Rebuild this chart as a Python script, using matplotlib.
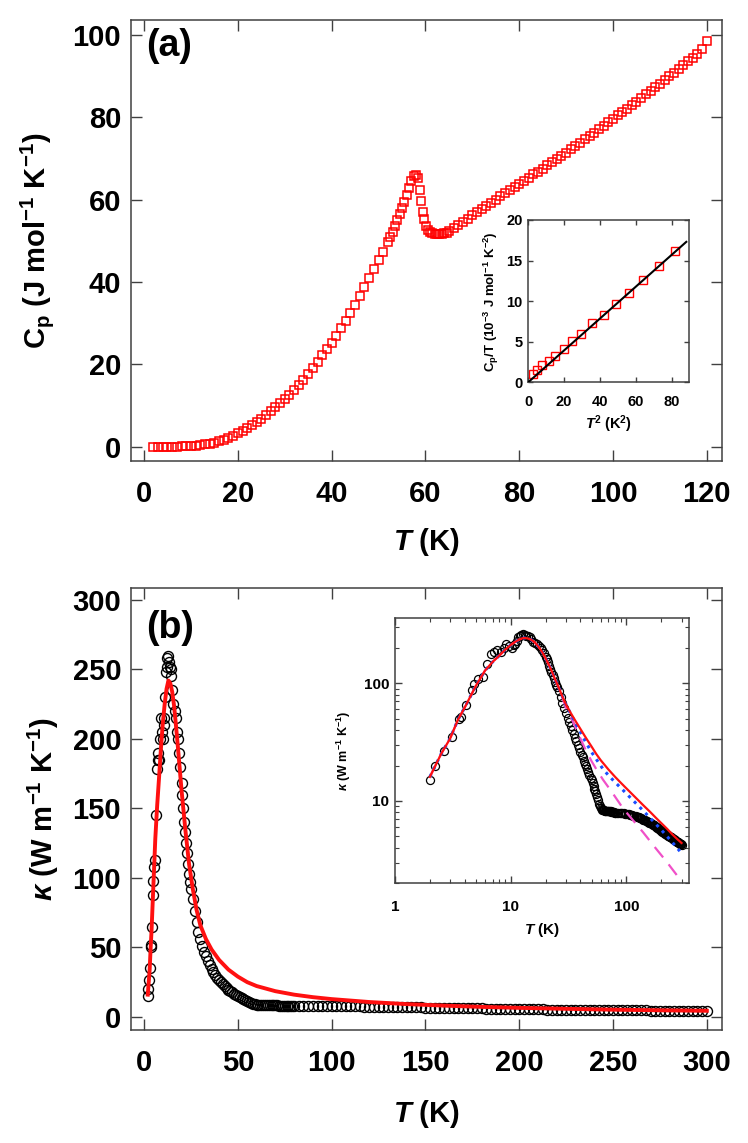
import numpy as np
import matplotlib
matplotlib.use('Agg')
import matplotlib.pyplot as plt
from matplotlib.ticker import FuncFormatter, NullFormatter, LogLocator

plt.rcParams['font.family'] = ['Liberation Sans', 'DejaVu Sans']
plt.rcParams['font.weight'] = 'bold'
plt.rcParams['axes.labelweight'] = 'bold'
plt.rcParams['mathtext.fontset'] = 'custom'
plt.rcParams['mathtext.rm'] = 'Liberation Sans:bold'
plt.rcParams['mathtext.it'] = 'Liberation Sans:italic'
plt.rcParams['mathtext.bf'] = 'Liberation Sans:bold'
plt.rcParams['mathtext.bfit'] = 'Liberation Sans:italic:bold'

# ---- (a) specific heat ----
cp_T = [2, 3, 4, 5, 6, 7, 8, 9, 10, 11,
        12, 13, 14, 15, 16, 17, 18, 19, 20, 21,
        22, 23, 24, 25, 26, 27, 28, 29, 30, 31,
        32, 33, 34, 35, 36, 37, 38, 39, 40, 41,
        42, 43, 44, 45, 46, 47, 48, 49, 50, 51,
        52, 52.5, 53, 53.5, 54, 54.5, 55, 55.5, 56, 56.5,
        57, 57.5, 58, 58.4, 58.8, 59.1, 59.5, 59.8, 60.2, 60.6,
        61, 61.5, 62, 62.5, 63, 63.5, 64, 64.5, 65, 66,
        67, 68, 69, 70, 71, 72, 73, 74, 75, 76,
        77, 78, 79, 80, 81, 82, 83, 84, 85, 86,
        87, 88, 89, 90, 91, 92, 93, 94, 95, 96,
        97, 98, 99, 100, 101, 102, 103, 104, 105, 106,
        107, 108, 109, 110, 111, 112, 113, 114, 115, 116,
        117, 118, 119, 120]
cp_val = [0.0, 0.0, 0.02, 0.04, 0.07, 0.1, 0.15, 0.2, 0.27, 0.35,
          0.45, 0.6, 0.8, 1.05, 1.35, 1.7, 2.15, 2.7, 3.3, 3.9,
          4.6, 5.3, 6.1, 6.9, 7.8, 8.7, 9.6, 10.6, 11.6, 12.7,
          13.8, 15.0, 16.3, 17.7, 19.2, 20.7, 22.2, 23.7, 25.3, 27.0,
          28.8, 30.6, 32.5, 34.5, 36.6, 38.8, 41.0, 43.1, 45.3, 47.4,
          49.6, 50.9, 52.2, 53.6, 55.0, 56.5, 58.0, 59.5, 61.0, 62.8,
          64.4, 65.6, 66.0, 65.2, 62.3, 59.6, 57.0, 55.2, 53.7, 52.7,
          52.2, 51.9, 51.7, 51.6, 51.6, 51.7, 51.8, 52.0, 52.3, 53.0,
          53.8, 54.6, 55.4, 56.2, 56.9, 57.7, 58.4, 59.2, 60.0, 60.8,
          61.6, 62.3, 63.0, 63.8, 64.5, 65.3, 66.1, 66.8, 67.5, 68.3,
          69.1, 69.8, 70.6, 71.4, 72.2, 73.0, 73.8, 74.6, 75.4, 76.2,
          77.1, 77.9, 78.7, 79.5, 80.4, 81.2, 82.0, 82.9, 83.7, 84.6,
          85.5, 86.3, 87.2, 88.1, 89.0, 89.9, 90.8, 91.7, 92.6, 93.5,
          94.4, 95.4, 96.4, 98.4]

# inset (a): Cp/T vs T^2
ins_T2 = [2.96, 4.8, 7.96, 11.67, 15.0, 20.0, 24.6, 29.6, 35.7, 42.4, 48.7, 56.3, 64.0, 72.8, 81.7]
ins_cpT = [1.1, 1.5, 2.15, 2.7, 3.2, 4.1, 5.1, 5.95, 7.3, 8.25, 9.6, 11.0, 12.6, 14.3, 16.15]
lin_T2 = [0, 88]
lin_cpT = [0.0, 17.3]

# ---- (b) thermal conductivity ----
kap_T_low = [2.0, 2.2, 2.65, 3.1, 3.6, 3.7, 4.1, 4.6, 4.8, 5.25,
             5.8, 6.2, 6.7, 7.2, 7.6, 8.2, 8.7, 9.2, 9.7, 10.2,
             10.6, 10.9, 11.3, 11.6, 12.0, 12.4, 12.9, 13.3, 13.7, 14.2,
             14.6, 15.1, 15.7, 16.3, 17.0, 17.6, 18.2, 18.8, 19.4, 20.0,
             20.5, 21.0, 21.5, 22.0, 22.5, 23.0, 23.5, 24.0, 24.5, 25.0]
kap_low = [15.2, 20.0, 26.7, 35.0, 50.0, 52.0, 65.0, 88.0, 98.0, 108.0,
           113.0, 145.0, 178.0, 185.0, 190.0, 185.0, 200.0, 215.0, 205.0, 200.0,
           210.0, 215.0, 230.0, 248.0, 252.0, 258.0, 260.0, 255.0, 252.0, 250.0,
           245.0, 235.0, 225.0, 220.0, 215.0, 205.0, 200.0, 190.0, 180.0, 168.0,
           160.0, 150.0, 140.0, 133.0, 125.0, 118.0, 110.0, 103.0, 97.0, 92.0]
kap_T_mid = [26, 27, 28, 29, 30, 31, 32, 33, 34, 35,
             36, 37, 38, 39, 40, 41, 42, 43, 44, 45,
             46, 47, 48, 49, 50, 51, 52, 53, 54, 55,
             56, 57, 58, 59, 60, 61, 62, 63, 64, 65,
             66, 67, 68, 69, 70, 71, 72, 73, 74, 75,
             76, 77, 78, 79, 80]
kap_mid = [85, 76, 68, 61, 56, 51, 47, 43.5, 40, 37,
           34.5, 32, 30, 28, 26.3, 24.8, 23.4, 22, 20.8, 19.7,
           18.6, 17.6, 16.7, 15.8, 15.0, 14.2, 13.4, 12.7, 12.1, 11.5,
           10.8, 10.1, 9.5, 9.0, 8.7, 8.5, 8.45, 8.4, 8.35, 8.3,
           8.3, 8.25, 8.25, 8.2, 8.2, 8.2, 8.15, 8.15, 8.1, 8.1,
           8.05, 8.0, 8.0, 7.95, 7.95]
kap_T_high = [82.5, 85, 87.5, 90, 92.5, 95, 97.5, 100,
              102.5, 105, 107.5, 110, 112.5, 115, 117.5, 120,
              122.5, 125, 127.5, 130, 132.5, 135, 137.5, 140,
              142.5, 145, 147.5, 150, 152.5, 155, 157.5, 160,
              162.5, 165, 167.5, 170, 172.5, 175, 177.5, 180,
              182.5, 185, 187.5, 190, 192.5, 195, 197.5, 200,
              202.5, 205, 207.5, 210, 212.5, 215, 217.5, 220,
              222.5, 225, 227.5, 230, 232.5, 235, 237.5, 240,
              242.5, 245, 247.5, 250, 252.5, 255, 257.5, 260,
              262.5, 265, 267.5, 270, 272.5, 275, 277.5, 280,
              282.5, 285, 287.5, 290, 292.5, 295, 297.5, 300]
kap_high = [7.9, 7.9, 7.9, 7.9, 7.85, 7.85, 7.8, 7.8,
            7.75, 7.7, 7.65, 7.6, 7.55, 7.5, 7.45, 7.4,
            7.35, 7.3, 7.25, 7.2, 7.15, 7.1, 7.0, 6.95,
            6.9, 6.85, 6.8, 6.7, 6.65, 6.6, 6.55, 6.5,
            6.45, 6.4, 6.35, 6.3, 6.25, 6.2, 6.1, 6.05,
            6.0, 5.95, 5.9, 5.8, 5.75, 5.7, 5.65, 5.6,
            5.55, 5.5, 5.45, 5.4, 5.35, 5.3, 5.25, 5.2,
            5.18, 5.15, 5.1, 5.05, 5.03, 5.0, 4.97, 4.95,
            4.92, 4.9, 4.85, 4.82, 4.8, 4.75, 4.72, 4.7,
            4.65, 4.62, 4.6, 4.55, 4.52, 4.5, 4.47, 4.45,
            4.42, 4.4, 4.37, 4.35, 4.33, 4.3, 4.28, 4.25]

kap_T = kap_T_low + kap_T_mid + kap_T_high
kap = kap_low + kap_mid + kap_high

# fit curves (shared low-T part)
fit_T_common = [2, 2.5, 3, 3.5, 4, 5, 6, 7, 8, 9, 10, 11, 12, 13, 14, 15,
                16, 17, 18, 19, 20, 22, 24, 26]
fit_common = [16, 25, 34, 49, 62, 95, 128, 152, 172, 193, 211, 225, 236, 242, 240, 234,
              224, 210, 195, 179, 163, 135, 110, 92]
red_T = fit_T_common + [28, 30, 33, 36, 40, 45, 50, 55, 60, 70, 80, 90, 100, 120,
                        140, 160, 180, 200, 225, 250, 275, 300]
red_k = fit_common + [77, 66, 56, 48.5, 41, 34, 29, 25, 22.2, 18.5, 16, 14.2, 12.8, 10.7,
                      9.2, 8.1, 7.2, 6.5, 5.8, 5.2, 4.75, 4.4]
blue_T = fit_T_common + [28, 30, 33, 36, 40, 45, 50, 55, 63, 70, 80, 94, 110, 130,
                         160, 200, 250, 290]
blue_k = fit_common + [77, 66, 55, 46.5, 38.5, 31, 26, 22.6, 18.6, 16.5, 14.4, 12.3, 10.5, 8.9,
                       7.2, 5.7, 4.45, 3.75]
pink_T = fit_T_common + [28, 30, 33, 36, 40, 45, 50, 55, 63, 75, 94, 115, 140, 180,
                         220, 260, 300]
pink_k = fit_common + [75, 62, 52, 43, 34, 26.5, 21.8, 18.6, 15.1, 11.9, 8.6, 6.8, 5.4, 3.95,
                       3.1, 2.5, 2.08]

spine_col = '#404040'


def style_axes(ax, size, length, pad_x, pad_y):
    for s in ax.spines.values():
        s.set_color(spine_col)
        s.set_linewidth(1.1)
    ax.tick_params(which='both', direction='in', top=True, right=True,
                   color=spine_col, labelsize=size)
    ax.tick_params(which='major', length=length, width=1.0)
    ax.tick_params(which='minor', length=length * 0.55, width=0.8)
    ax.tick_params(axis='x', pad=pad_x)
    ax.tick_params(axis='y', pad=pad_y)


fig = plt.figure(figsize=(7.48, 11.43), dpi=100)

# panel (a)
ax1 = fig.add_axes([0.175, 0.5967, 0.790, 0.386])
ax1.plot(cp_T, cp_val, 's', mfc='none', mec='#ff0000', ms=5.8, mew=1.1)
ax1.set_xlim(-2.8, 123.2)
ax1.set_ylim(-3.4, 103.6)
ax1.set_xticks(range(0, 121, 20))
ax1.set_yticks(range(0, 101, 20))
style_axes(ax1, 21, 8, 14, 7)
ax1.set_xlabel(r'$\mathbfit{T}$ (K)', fontsize=21, labelpad=13)
ax1.set_ylabel(r'$\mathrm{C_p}$ (J mol$^{\mathrm{-1}}$ K$^{\mathrm{-1}}$)', fontsize=21, labelpad=12)
ax1.text(0.025, 0.94, '(a)', transform=ax1.transAxes, fontsize=27,
         fontweight='bold', ha='left', va='center')

axi1 = fig.add_axes([0.7059, 0.6654, 0.2152, 0.1422])
axi1.plot(lin_T2, lin_cpT, '-', color='black', lw=1.5, zorder=3)
axi1.plot(ins_T2, ins_cpT, 's', mfc='none', mec='#ff0000', ms=6, mew=1.0, zorder=2)
axi1.set_xlim(0, 89.5)
axi1.set_ylim(0, 20)
axi1.set_xticks(range(0, 81, 20))
axi1.set_yticks(range(0, 21, 5))
style_axes(axi1, 10.5, 3.5, 9, 4)
axi1.set_xlabel(r'$\mathbfit{T}^{\mathrm{2}}$ (K$^{\mathrm{2}}$)', fontsize=10.5, labelpad=3)
axi1.set_ylabel(r'$\mathrm{C_p}$/T (10$^{\mathrm{-3}}$ J mol$^{\mathrm{-1}}$ K$^{\mathrm{-2}}$)',
                fontsize=9.5, labelpad=4)

# panel (b)
ax2 = fig.add_axes([0.175, 0.0989, 0.790, 0.3867])
ax2.plot(kap_T, kap, 'o', mfc='none', mec='black', ms=7.2, mew=1.0, zorder=2)
ax2.plot(red_T, red_k, '-', color='#ff1010', lw=2.8, zorder=3)
ax2.set_xlim(-7, 308)
ax2.set_ylim(-9.4, 308.6)
ax2.set_xticks(range(0, 301, 50))
ax2.set_yticks(range(0, 301, 50))
style_axes(ax2, 21, 8, 14, 7)
ax2.set_xlabel(r'$\mathbfit{T}$ (K)', fontsize=21, labelpad=15)
ax2.set_ylabel(r'$\kappa$ (W m$^{\mathrm{-1}}$ K$^{\mathrm{-1}}$)', fontsize=21, labelpad=8)
ax2.text(0.025, 0.91, '(b)', transform=ax2.transAxes, fontsize=27,
         fontweight='bold', ha='left', va='center')

axi2 = fig.add_axes([0.5281, 0.2272, 0.3934, 0.2318])
axi2.plot(kap_T, kap, 'o', mfc='none', mec='black', ms=5.8, mew=0.9, zorder=2)
axi2.plot(pink_T, pink_k, '--', color='#f050c8', lw=1.6, dashes=(6, 4), zorder=3)
axi2.plot(blue_T, blue_k, ':', color='#1a4dff', lw=2.2, zorder=4)
axi2.plot(red_T, red_k, '-', color='#ff1010', lw=1.6, zorder=5)
axi2.set_xscale('log')
axi2.set_yscale('log')
axi2.set_xlim(1, 350)
axi2.set_ylim(2, 355)
axi2.set_xticks([1, 10, 100])
axi2.set_yticks([10, 100])
fmt = FuncFormatter(lambda v, p: '%g' % v)
axi2.xaxis.set_major_formatter(fmt)
axi2.yaxis.set_major_formatter(fmt)
axi2.xaxis.set_minor_locator(LogLocator(base=10, subs=np.arange(2, 10)))
axi2.yaxis.set_minor_locator(LogLocator(base=10, subs=np.arange(2, 10)))
axi2.xaxis.set_minor_formatter(NullFormatter())
axi2.yaxis.set_minor_formatter(NullFormatter())
style_axes(axi2, 11, 5, 12, 4)
axi2.set_xlabel(r'$\mathbfit{T}$ (K)', fontsize=11, labelpad=5)
axi2.set_ylabel(r'$\kappa$ (W m$^{\mathrm{-1}}$ K$^{\mathrm{-1}}$)', fontsize=9, labelpad=8)

fig.savefig('out.png', dpi=100, facecolor='white')
